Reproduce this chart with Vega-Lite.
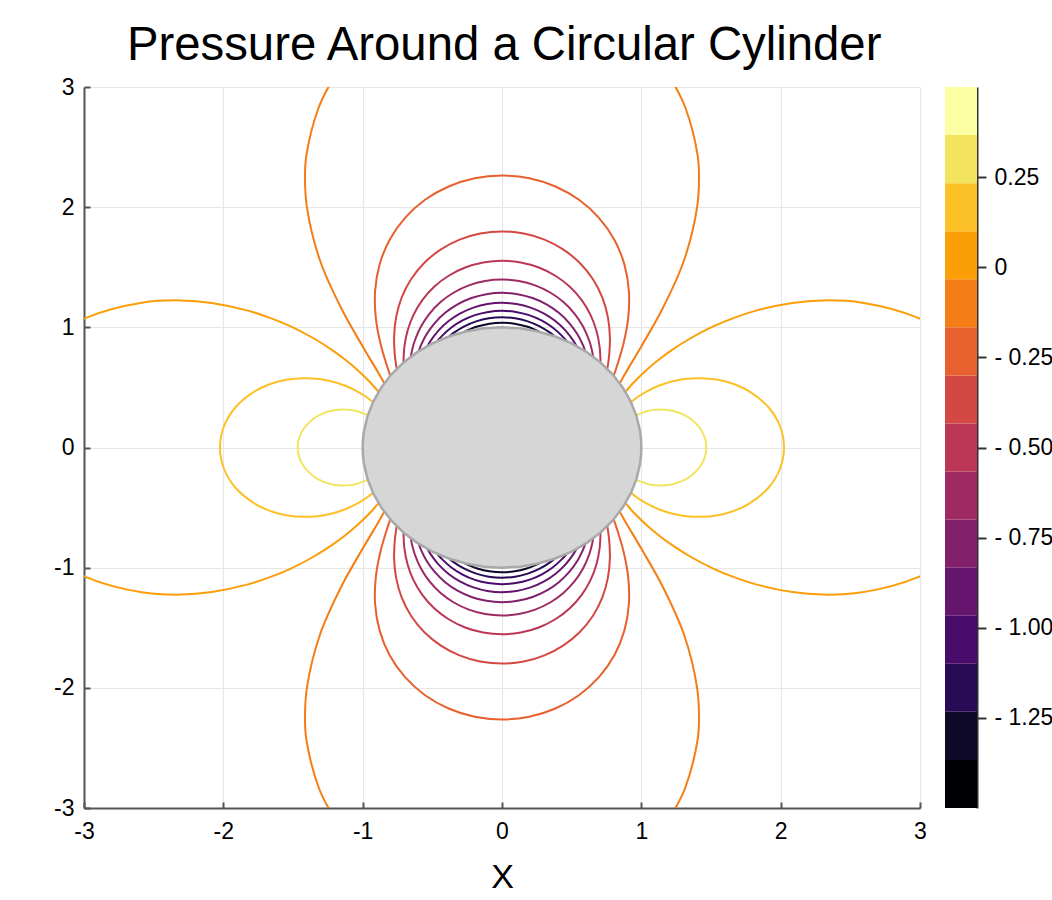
{
"$schema": "https://vega.github.io/schema/vega-lite/v6.json",
"padding": {"left": 53, "top": 21, "right": 0, "bottom": 5},
"background": "white",
"title": {"text": "Pressure Around a Circular Cylinder", "fontSize": 47.3, "font": "Liberation Sans", "fontWeight": "normal", "color": "#000000", "anchor": "middle", "offset": 6, "dx": -49},
"config": {"view": {"stroke": null}},
"resolve": {"scale": {"x": "independent", "y": "independent", "color": "shared"}},
"spacing": 18,
"datasets": {
"contours": [
{"c":"10t","v":-0.0714,"i":0,"x":0.8453,"y":0.5344},
{"c":"10t","v":-0.0714,"i":1,"x":0.8876,"y":0.6215},
{"c":"10t","v":-0.0714,"i":2,"x":0.9977,"y":0.8372},
{"c":"10t","v":-0.0714,"i":3,"x":1.1501,"y":1.1501},
{"c":"10t","v":-0.0714,"i":4,"x":1.306,"y":1.556},
{"c":"10t","v":-0.0714,"i":5,"x":1.4003,"y":2.0},
{"c":"10t","v":-0.0714,"i":6,"x":1.4138,"y":2.2625},
{"c":"10t","v":-0.0714,"i":7,"x":1.404,"y":2.432},
{"c":"10t","v":-0.0714,"i":8,"x":1.317,"y":2.825},
{"c":"10t","v":-0.0714,"i":9,"x":1.2438,"y":3.0027},
{"c":"10t","v":-0.0714,"i":10,"x":1.1515,"y":3.164},
{"c":"10t","v":-0.0714,"i":11,"x":-1.1515,"y":3.164},
{"c":"10t","v":-0.0714,"i":12,"x":-1.2438,"y":3.0027},
{"c":"10t","v":-0.0714,"i":13,"x":-1.317,"y":2.825},
{"c":"10t","v":-0.0714,"i":14,"x":-1.404,"y":2.432},
{"c":"10t","v":-0.0714,"i":15,"x":-1.4138,"y":2.2625},
{"c":"10t","v":-0.0714,"i":16,"x":-1.4003,"y":2.0},
{"c":"10t","v":-0.0714,"i":17,"x":-1.306,"y":1.556},
{"c":"10t","v":-0.0714,"i":18,"x":-1.1501,"y":1.1501},
{"c":"10t","v":-0.0714,"i":19,"x":-0.9977,"y":0.8372},
{"c":"10t","v":-0.0714,"i":20,"x":-0.8876,"y":0.6215},
{"c":"10t","v":-0.0714,"i":21,"x":-0.8453,"y":0.5344},
{"c":"10b","v":-0.0714,"i":0,"x":0.8453,"y":-0.5344},
{"c":"10b","v":-0.0714,"i":1,"x":0.8876,"y":-0.6215},
{"c":"10b","v":-0.0714,"i":2,"x":0.9977,"y":-0.8372},
{"c":"10b","v":-0.0714,"i":3,"x":1.1501,"y":-1.1501},
{"c":"10b","v":-0.0714,"i":4,"x":1.306,"y":-1.556},
{"c":"10b","v":-0.0714,"i":5,"x":1.4003,"y":-2.0},
{"c":"10b","v":-0.0714,"i":6,"x":1.4138,"y":-2.2625},
{"c":"10b","v":-0.0714,"i":7,"x":1.404,"y":-2.432},
{"c":"10b","v":-0.0714,"i":8,"x":1.317,"y":-2.825},
{"c":"10b","v":-0.0714,"i":9,"x":1.2438,"y":-3.0027},
{"c":"10b","v":-0.0714,"i":10,"x":1.1515,"y":-3.164},
{"c":"10b","v":-0.0714,"i":11,"x":-1.1515,"y":-3.164},
{"c":"10b","v":-0.0714,"i":12,"x":-1.2438,"y":-3.0027},
{"c":"10b","v":-0.0714,"i":13,"x":-1.317,"y":-2.825},
{"c":"10b","v":-0.0714,"i":14,"x":-1.404,"y":-2.432},
{"c":"10b","v":-0.0714,"i":15,"x":-1.4138,"y":-2.2625},
{"c":"10b","v":-0.0714,"i":16,"x":-1.4003,"y":-2.0},
{"c":"10b","v":-0.0714,"i":17,"x":-1.306,"y":-1.556},
{"c":"10b","v":-0.0714,"i":18,"x":-1.1501,"y":-1.1501},
{"c":"10b","v":-0.0714,"i":19,"x":-0.9977,"y":-0.8372},
{"c":"10b","v":-0.0714,"i":20,"x":-0.8876,"y":-0.6215},
{"c":"10b","v":-0.0714,"i":21,"x":-0.8453,"y":-0.5344},
{"c":"9t","v":-0.2143,"i":0,"x":0.8018,"y":0.5976},
{"c":"9t","v":-0.2143,"i":1,"x":0.8304,"y":0.6969},
{"c":"9t","v":-0.2143,"i":2,"x":0.8739,"y":0.8739},
{"c":"9t","v":-0.2143,"i":3,"x":0.9057,"y":1.0793},
{"c":"9t","v":-0.2143,"i":4,"x":0.9108,"y":1.3007},
{"c":"9t","v":-0.2143,"i":5,"x":0.8787,"y":1.522},
{"c":"9t","v":-0.2143,"i":6,"x":0.8063,"y":1.7292},
{"c":"9t","v":-0.2143,"i":7,"x":0.6957,"y":1.9114},
{"c":"9t","v":-0.2143,"i":8,"x":0.5523,"y":2.0613},
{"c":"9t","v":-0.2143,"i":9,"x":0.3829,"y":2.172},
{"c":"9t","v":-0.2143,"i":10,"x":0.1961,"y":2.2406},
{"c":"9t","v":-0.2143,"i":11,"x":0,"y":2.263},
{"c":"9t","v":-0.2143,"i":12,"x":-0.1961,"y":2.2406},
{"c":"9t","v":-0.2143,"i":13,"x":-0.3829,"y":2.172},
{"c":"9t","v":-0.2143,"i":14,"x":-0.5523,"y":2.0613},
{"c":"9t","v":-0.2143,"i":15,"x":-0.6957,"y":1.9114},
{"c":"9t","v":-0.2143,"i":16,"x":-0.8063,"y":1.7292},
{"c":"9t","v":-0.2143,"i":17,"x":-0.8787,"y":1.522},
{"c":"9t","v":-0.2143,"i":18,"x":-0.9108,"y":1.3007},
{"c":"9t","v":-0.2143,"i":19,"x":-0.9057,"y":1.0793},
{"c":"9t","v":-0.2143,"i":20,"x":-0.8739,"y":0.8739},
{"c":"9t","v":-0.2143,"i":21,"x":-0.8304,"y":0.6969},
{"c":"9t","v":-0.2143,"i":22,"x":-0.8018,"y":0.5976},
{"c":"9b","v":-0.2143,"i":0,"x":0.8018,"y":-0.5976},
{"c":"9b","v":-0.2143,"i":1,"x":0.8304,"y":-0.6969},
{"c":"9b","v":-0.2143,"i":2,"x":0.8739,"y":-0.8739},
{"c":"9b","v":-0.2143,"i":3,"x":0.9057,"y":-1.0793},
{"c":"9b","v":-0.2143,"i":4,"x":0.9108,"y":-1.3007},
{"c":"9b","v":-0.2143,"i":5,"x":0.8787,"y":-1.522},
{"c":"9b","v":-0.2143,"i":6,"x":0.8063,"y":-1.7292},
{"c":"9b","v":-0.2143,"i":7,"x":0.6957,"y":-1.9114},
{"c":"9b","v":-0.2143,"i":8,"x":0.5523,"y":-2.0613},
{"c":"9b","v":-0.2143,"i":9,"x":0.3829,"y":-2.172},
{"c":"9b","v":-0.2143,"i":10,"x":0.1961,"y":-2.2406},
{"c":"9b","v":-0.2143,"i":11,"x":0,"y":-2.263},
{"c":"9b","v":-0.2143,"i":12,"x":-0.1961,"y":-2.2406},
{"c":"9b","v":-0.2143,"i":13,"x":-0.3829,"y":-2.172},
{"c":"9b","v":-0.2143,"i":14,"x":-0.5523,"y":-2.0613},
{"c":"9b","v":-0.2143,"i":15,"x":-0.6957,"y":-1.9114},
{"c":"9b","v":-0.2143,"i":16,"x":-0.8063,"y":-1.7292},
{"c":"9b","v":-0.2143,"i":17,"x":-0.8787,"y":-1.522},
{"c":"9b","v":-0.2143,"i":18,"x":-0.9108,"y":-1.3007},
{"c":"9b","v":-0.2143,"i":19,"x":-0.9057,"y":-1.0793},
{"c":"9b","v":-0.2143,"i":20,"x":-0.8739,"y":-0.8739},
{"c":"9b","v":-0.2143,"i":21,"x":-0.8304,"y":-0.6969},
{"c":"9b","v":-0.2143,"i":22,"x":-0.8018,"y":-0.5976},
{"c":"8t","v":-0.3571,"i":0,"x":0.7558,"y":0.6547},
{"c":"8t","v":-0.3571,"i":1,"x":0.7691,"y":0.7691},
{"c":"8t","v":-0.3571,"i":2,"x":0.7743,"y":0.9227},
{"c":"8t","v":-0.3571,"i":3,"x":0.7598,"y":1.0852},
{"c":"8t","v":-0.3571,"i":4,"x":0.7202,"y":1.2473},
{"c":"8t","v":-0.3571,"i":5,"x":0.6529,"y":1.4002},
{"c":"8t","v":-0.3571,"i":6,"x":0.5587,"y":1.5352},
{"c":"8t","v":-0.3571,"i":7,"x":0.4412,"y":1.6466},
{"c":"8t","v":-0.3571,"i":8,"x":0.3049,"y":1.7298},
{"c":"8t","v":-0.3571,"i":9,"x":0.1559,"y":1.7808},
{"c":"8t","v":-0.3571,"i":10,"x":0,"y":1.798},
{"c":"8t","v":-0.3571,"i":11,"x":-0.1559,"y":1.7808},
{"c":"8t","v":-0.3571,"i":12,"x":-0.3049,"y":1.7298},
{"c":"8t","v":-0.3571,"i":13,"x":-0.4412,"y":1.6466},
{"c":"8t","v":-0.3571,"i":14,"x":-0.5587,"y":1.5352},
{"c":"8t","v":-0.3571,"i":15,"x":-0.6529,"y":1.4002},
{"c":"8t","v":-0.3571,"i":16,"x":-0.7202,"y":1.2473},
{"c":"8t","v":-0.3571,"i":17,"x":-0.7598,"y":1.0852},
{"c":"8t","v":-0.3571,"i":18,"x":-0.7743,"y":0.9227},
{"c":"8t","v":-0.3571,"i":19,"x":-0.7691,"y":0.7691},
{"c":"8t","v":-0.3571,"i":20,"x":-0.7558,"y":0.6547},
{"c":"8b","v":-0.3571,"i":0,"x":0.7558,"y":-0.6547},
{"c":"8b","v":-0.3571,"i":1,"x":0.7691,"y":-0.7691},
{"c":"8b","v":-0.3571,"i":2,"x":0.7743,"y":-0.9227},
{"c":"8b","v":-0.3571,"i":3,"x":0.7598,"y":-1.0852},
{"c":"8b","v":-0.3571,"i":4,"x":0.7202,"y":-1.2473},
{"c":"8b","v":-0.3571,"i":5,"x":0.6529,"y":-1.4002},
{"c":"8b","v":-0.3571,"i":6,"x":0.5587,"y":-1.5352},
{"c":"8b","v":-0.3571,"i":7,"x":0.4412,"y":-1.6466},
{"c":"8b","v":-0.3571,"i":8,"x":0.3049,"y":-1.7298},
{"c":"8b","v":-0.3571,"i":9,"x":0.1559,"y":-1.7808},
{"c":"8b","v":-0.3571,"i":10,"x":0,"y":-1.798},
{"c":"8b","v":-0.3571,"i":11,"x":-0.1559,"y":-1.7808},
{"c":"8b","v":-0.3571,"i":12,"x":-0.3049,"y":-1.7298},
{"c":"8b","v":-0.3571,"i":13,"x":-0.4412,"y":-1.6466},
{"c":"8b","v":-0.3571,"i":14,"x":-0.5587,"y":-1.5352},
{"c":"8b","v":-0.3571,"i":15,"x":-0.6529,"y":-1.4002},
{"c":"8b","v":-0.3571,"i":16,"x":-0.7202,"y":-1.2473},
{"c":"8b","v":-0.3571,"i":17,"x":-0.7598,"y":-1.0852},
{"c":"8b","v":-0.3571,"i":18,"x":-0.7743,"y":-0.9227},
{"c":"8b","v":-0.3571,"i":19,"x":-0.7691,"y":-0.7691},
{"c":"8b","v":-0.3571,"i":20,"x":-0.7558,"y":-0.6547},
{"c":"7t","v":-0.5,"i":0,"x":0.7071,"y":0.7071},
{"c":"7t","v":-0.5,"i":1,"x":0.7008,"y":0.8352},
{"c":"7t","v":-0.5,"i":2,"x":0.6784,"y":0.9689},
{"c":"7t","v":-0.5,"i":3,"x":0.636,"y":1.1017},
{"c":"7t","v":-0.5,"i":4,"x":0.5719,"y":1.2265},
{"c":"7t","v":-0.5,"i":5,"x":0.4868,"y":1.3375},
{"c":"7t","v":-0.5,"i":6,"x":0.3829,"y":1.4291},
{"c":"7t","v":-0.5,"i":7,"x":0.264,"y":1.4976},
{"c":"7t","v":-0.5,"i":8,"x":0.1347,"y":1.5395},
{"c":"7t","v":-0.5,"i":9,"x":0,"y":1.5538},
{"c":"7t","v":-0.5,"i":10,"x":-0.1347,"y":1.5395},
{"c":"7t","v":-0.5,"i":11,"x":-0.264,"y":1.4976},
{"c":"7t","v":-0.5,"i":12,"x":-0.3829,"y":1.4291},
{"c":"7t","v":-0.5,"i":13,"x":-0.4868,"y":1.3375},
{"c":"7t","v":-0.5,"i":14,"x":-0.5719,"y":1.2265},
{"c":"7t","v":-0.5,"i":15,"x":-0.636,"y":1.1017},
{"c":"7t","v":-0.5,"i":16,"x":-0.6784,"y":0.9689},
{"c":"7t","v":-0.5,"i":17,"x":-0.7008,"y":0.8352},
{"c":"7t","v":-0.5,"i":18,"x":-0.7071,"y":0.7071},
{"c":"7b","v":-0.5,"i":0,"x":0.7071,"y":-0.7071},
{"c":"7b","v":-0.5,"i":1,"x":0.7008,"y":-0.8352},
{"c":"7b","v":-0.5,"i":2,"x":0.6784,"y":-0.9689},
{"c":"7b","v":-0.5,"i":3,"x":0.636,"y":-1.1017},
{"c":"7b","v":-0.5,"i":4,"x":0.5719,"y":-1.2265},
{"c":"7b","v":-0.5,"i":5,"x":0.4868,"y":-1.3375},
{"c":"7b","v":-0.5,"i":6,"x":0.3829,"y":-1.4291},
{"c":"7b","v":-0.5,"i":7,"x":0.264,"y":-1.4976},
{"c":"7b","v":-0.5,"i":8,"x":0.1347,"y":-1.5395},
{"c":"7b","v":-0.5,"i":9,"x":0,"y":-1.5538},
{"c":"7b","v":-0.5,"i":10,"x":-0.1347,"y":-1.5395},
{"c":"7b","v":-0.5,"i":11,"x":-0.264,"y":-1.4976},
{"c":"7b","v":-0.5,"i":12,"x":-0.3829,"y":-1.4291},
{"c":"7b","v":-0.5,"i":13,"x":-0.4868,"y":-1.3375},
{"c":"7b","v":-0.5,"i":14,"x":-0.5719,"y":-1.2265},
{"c":"7b","v":-0.5,"i":15,"x":-0.636,"y":-1.1017},
{"c":"7b","v":-0.5,"i":16,"x":-0.6784,"y":-0.9689},
{"c":"7b","v":-0.5,"i":17,"x":-0.7008,"y":-0.8352},
{"c":"7b","v":-0.5,"i":18,"x":-0.7071,"y":-0.7071},
{"c":"6t","v":-0.6429,"i":0,"x":0.6547,"y":0.7559},
{"c":"6t","v":-0.6429,"i":1,"x":0.6428,"y":0.8227},
{"c":"6t","v":-0.6429,"i":2,"x":0.625,"y":0.8926},
{"c":"6t","v":-0.6429,"i":3,"x":0.5816,"y":1.0073},
{"c":"6t","v":-0.6429,"i":4,"x":0.5199,"y":1.115},
{"c":"6t","v":-0.6429,"i":5,"x":0.4407,"y":1.2108},
{"c":"6t","v":-0.6429,"i":6,"x":0.3456,"y":1.2898},
{"c":"6t","v":-0.6429,"i":7,"x":0.2378,"y":1.3489},
{"c":"6t","v":-0.6429,"i":8,"x":0.1213,"y":1.3855},
{"c":"6t","v":-0.6429,"i":9,"x":0,"y":1.3977},
{"c":"6t","v":-0.6429,"i":10,"x":-0.1213,"y":1.3855},
{"c":"6t","v":-0.6429,"i":11,"x":-0.2378,"y":1.3489},
{"c":"6t","v":-0.6429,"i":12,"x":-0.3456,"y":1.2898},
{"c":"6t","v":-0.6429,"i":13,"x":-0.4407,"y":1.2108},
{"c":"6t","v":-0.6429,"i":14,"x":-0.5199,"y":1.115},
{"c":"6t","v":-0.6429,"i":15,"x":-0.5816,"y":1.0073},
{"c":"6t","v":-0.6429,"i":16,"x":-0.625,"y":0.8926},
{"c":"6t","v":-0.6429,"i":17,"x":-0.6428,"y":0.8227},
{"c":"6t","v":-0.6429,"i":18,"x":-0.6547,"y":0.7559},
{"c":"6b","v":-0.6429,"i":0,"x":0.6547,"y":-0.7559},
{"c":"6b","v":-0.6429,"i":1,"x":0.6428,"y":-0.8227},
{"c":"6b","v":-0.6429,"i":2,"x":0.625,"y":-0.8926},
{"c":"6b","v":-0.6429,"i":3,"x":0.5816,"y":-1.0073},
{"c":"6b","v":-0.6429,"i":4,"x":0.5199,"y":-1.115},
{"c":"6b","v":-0.6429,"i":5,"x":0.4407,"y":-1.2108},
{"c":"6b","v":-0.6429,"i":6,"x":0.3456,"y":-1.2898},
{"c":"6b","v":-0.6429,"i":7,"x":0.2378,"y":-1.3489},
{"c":"6b","v":-0.6429,"i":8,"x":0.1213,"y":-1.3855},
{"c":"6b","v":-0.6429,"i":9,"x":0,"y":-1.3977},
{"c":"6b","v":-0.6429,"i":10,"x":-0.1213,"y":-1.3855},
{"c":"6b","v":-0.6429,"i":11,"x":-0.2378,"y":-1.3489},
{"c":"6b","v":-0.6429,"i":12,"x":-0.3456,"y":-1.2898},
{"c":"6b","v":-0.6429,"i":13,"x":-0.4407,"y":-1.2108},
{"c":"6b","v":-0.6429,"i":14,"x":-0.5199,"y":-1.115},
{"c":"6b","v":-0.6429,"i":15,"x":-0.5816,"y":-1.0073},
{"c":"6b","v":-0.6429,"i":16,"x":-0.625,"y":-0.8926},
{"c":"6b","v":-0.6429,"i":17,"x":-0.6428,"y":-0.8227},
{"c":"6b","v":-0.6429,"i":18,"x":-0.6547,"y":-0.7559},
{"c":"5t","v":-0.7857,"i":0,"x":0.5976,"y":0.8018},
{"c":"5t","v":-0.7857,"i":1,"x":0.5787,"y":0.858},
{"c":"5t","v":-0.7857,"i":2,"x":0.5425,"y":0.9396},
{"c":"5t","v":-0.7857,"i":3,"x":0.4829,"y":1.0355},
{"c":"5t","v":-0.7857,"i":4,"x":0.4079,"y":1.1207},
{"c":"5t","v":-0.7857,"i":5,"x":0.3192,"y":1.1912},
{"c":"5t","v":-0.7857,"i":6,"x":0.2192,"y":1.2437},
{"c":"5t","v":-0.7857,"i":7,"x":0.1117,"y":1.2762},
{"c":"5t","v":-0.7857,"i":8,"x":0,"y":1.2872},
{"c":"5t","v":-0.7857,"i":9,"x":-0.1117,"y":1.2762},
{"c":"5t","v":-0.7857,"i":10,"x":-0.2192,"y":1.2437},
{"c":"5t","v":-0.7857,"i":11,"x":-0.3192,"y":1.1912},
{"c":"5t","v":-0.7857,"i":12,"x":-0.4079,"y":1.1207},
{"c":"5t","v":-0.7857,"i":13,"x":-0.4829,"y":1.0355},
{"c":"5t","v":-0.7857,"i":14,"x":-0.5425,"y":0.9396},
{"c":"5t","v":-0.7857,"i":15,"x":-0.5787,"y":0.858},
{"c":"5t","v":-0.7857,"i":16,"x":-0.5976,"y":0.8018},
{"c":"5b","v":-0.7857,"i":0,"x":0.5976,"y":-0.8018},
{"c":"5b","v":-0.7857,"i":1,"x":0.5787,"y":-0.858},
{"c":"5b","v":-0.7857,"i":2,"x":0.5425,"y":-0.9396},
{"c":"5b","v":-0.7857,"i":3,"x":0.4829,"y":-1.0355},
{"c":"5b","v":-0.7857,"i":4,"x":0.4079,"y":-1.1207},
{"c":"5b","v":-0.7857,"i":5,"x":0.3192,"y":-1.1912},
{"c":"5b","v":-0.7857,"i":6,"x":0.2192,"y":-1.2437},
{"c":"5b","v":-0.7857,"i":7,"x":0.1117,"y":-1.2762},
{"c":"5b","v":-0.7857,"i":8,"x":0,"y":-1.2872},
{"c":"5b","v":-0.7857,"i":9,"x":-0.1117,"y":-1.2762},
{"c":"5b","v":-0.7857,"i":10,"x":-0.2192,"y":-1.2437},
{"c":"5b","v":-0.7857,"i":11,"x":-0.3192,"y":-1.1912},
{"c":"5b","v":-0.7857,"i":12,"x":-0.4079,"y":-1.1207},
{"c":"5b","v":-0.7857,"i":13,"x":-0.4829,"y":-1.0355},
{"c":"5b","v":-0.7857,"i":14,"x":-0.5425,"y":-0.9396},
{"c":"5b","v":-0.7857,"i":15,"x":-0.5787,"y":-0.858},
{"c":"5b","v":-0.7857,"i":16,"x":-0.5976,"y":-0.8018},
{"c":"4t","v":-0.9286,"i":0,"x":0.5344,"y":0.8453},
{"c":"4t","v":-0.9286,"i":1,"x":0.5126,"y":0.8878},
{"c":"4t","v":-0.9286,"i":2,"x":0.4546,"y":0.975},
{"c":"4t","v":-0.9286,"i":3,"x":0.383,"y":1.0524},
{"c":"4t","v":-0.9286,"i":4,"x":0.2991,"y":1.1163},
{"c":"4t","v":-0.9286,"i":5,"x":0.2052,"y":1.1642},
{"c":"4t","v":-0.9286,"i":6,"x":0.1045,"y":1.1936},
{"c":"4t","v":-0.9286,"i":7,"x":0,"y":1.2036},
{"c":"4t","v":-0.9286,"i":8,"x":-0.1045,"y":1.1936},
{"c":"4t","v":-0.9286,"i":9,"x":-0.2052,"y":1.1642},
{"c":"4t","v":-0.9286,"i":10,"x":-0.2991,"y":1.1163},
{"c":"4t","v":-0.9286,"i":11,"x":-0.383,"y":1.0524},
{"c":"4t","v":-0.9286,"i":12,"x":-0.4546,"y":0.975},
{"c":"4t","v":-0.9286,"i":13,"x":-0.5126,"y":0.8878},
{"c":"4t","v":-0.9286,"i":14,"x":-0.5344,"y":0.8453},
{"c":"4b","v":-0.9286,"i":0,"x":0.5344,"y":-0.8453},
{"c":"4b","v":-0.9286,"i":1,"x":0.5126,"y":-0.8878},
{"c":"4b","v":-0.9286,"i":2,"x":0.4546,"y":-0.975},
{"c":"4b","v":-0.9286,"i":3,"x":0.383,"y":-1.0524},
{"c":"4b","v":-0.9286,"i":4,"x":0.2991,"y":-1.1163},
{"c":"4b","v":-0.9286,"i":5,"x":0.2052,"y":-1.1642},
{"c":"4b","v":-0.9286,"i":6,"x":0.1045,"y":-1.1936},
{"c":"4b","v":-0.9286,"i":7,"x":0,"y":-1.2036},
{"c":"4b","v":-0.9286,"i":8,"x":-0.1045,"y":-1.1936},
{"c":"4b","v":-0.9286,"i":9,"x":-0.2052,"y":-1.1642},
{"c":"4b","v":-0.9286,"i":10,"x":-0.2991,"y":-1.1163},
{"c":"4b","v":-0.9286,"i":11,"x":-0.383,"y":-1.0524},
{"c":"4b","v":-0.9286,"i":12,"x":-0.4546,"y":-0.975},
{"c":"4b","v":-0.9286,"i":13,"x":-0.5126,"y":-0.8878},
{"c":"4b","v":-0.9286,"i":14,"x":-0.5344,"y":-0.8453},
{"c":"3t","v":-1.0714,"i":0,"x":0.4633,"y":0.8862},
{"c":"3t","v":-1.0714,"i":1,"x":0.4322,"y":0.9269},
{"c":"3t","v":-1.0714,"i":2,"x":0.3633,"y":0.9982},
{"c":"3t","v":-1.0714,"i":3,"x":0.2832,"y":1.0571},
{"c":"3t","v":-1.0714,"i":4,"x":0.1941,"y":1.1012},
{"c":"3t","v":-1.0714,"i":5,"x":0.0988,"y":1.1283},
{"c":"3t","v":-1.0714,"i":6,"x":0,"y":1.1375},
{"c":"3t","v":-1.0714,"i":7,"x":-0.0988,"y":1.1283},
{"c":"3t","v":-1.0714,"i":8,"x":-0.1941,"y":1.1012},
{"c":"3t","v":-1.0714,"i":9,"x":-0.2832,"y":1.0571},
{"c":"3t","v":-1.0714,"i":10,"x":-0.3633,"y":0.9982},
{"c":"3t","v":-1.0714,"i":11,"x":-0.4322,"y":0.9269},
{"c":"3t","v":-1.0714,"i":12,"x":-0.4633,"y":0.8862},
{"c":"3b","v":-1.0714,"i":0,"x":0.4633,"y":-0.8862},
{"c":"3b","v":-1.0714,"i":1,"x":0.4322,"y":-0.9269},
{"c":"3b","v":-1.0714,"i":2,"x":0.3633,"y":-0.9982},
{"c":"3b","v":-1.0714,"i":3,"x":0.2832,"y":-1.0571},
{"c":"3b","v":-1.0714,"i":4,"x":0.1941,"y":-1.1012},
{"c":"3b","v":-1.0714,"i":5,"x":0.0988,"y":-1.1283},
{"c":"3b","v":-1.0714,"i":6,"x":0,"y":-1.1375},
{"c":"3b","v":-1.0714,"i":7,"x":-0.0988,"y":-1.1283},
{"c":"3b","v":-1.0714,"i":8,"x":-0.1941,"y":-1.1012},
{"c":"3b","v":-1.0714,"i":9,"x":-0.2832,"y":-1.0571},
{"c":"3b","v":-1.0714,"i":10,"x":-0.3633,"y":-0.9982},
{"c":"3b","v":-1.0714,"i":11,"x":-0.4322,"y":-0.9269},
{"c":"3b","v":-1.0714,"i":12,"x":-0.4633,"y":-0.8862},
{"c":"2t","v":-1.2143,"i":0,"x":0.3778,"y":0.9259},
{"c":"2t","v":-1.2143,"i":1,"x":0.3472,"y":0.9539},
{"c":"2t","v":-1.2143,"i":2,"x":0.2703,"y":1.0087},
{"c":"2t","v":-1.2143,"i":3,"x":0.1851,"y":1.0498},
{"c":"2t","v":-1.2143,"i":4,"x":0.0941,"y":1.075},
{"c":"2t","v":-1.2143,"i":5,"x":0,"y":1.0836},
{"c":"2t","v":-1.2143,"i":6,"x":-0.0941,"y":1.075},
{"c":"2t","v":-1.2143,"i":7,"x":-0.1851,"y":1.0498},
{"c":"2t","v":-1.2143,"i":8,"x":-0.2703,"y":1.0087},
{"c":"2t","v":-1.2143,"i":9,"x":-0.3472,"y":0.9539},
{"c":"2t","v":-1.2143,"i":10,"x":-0.3778,"y":0.9259},
{"c":"2b","v":-1.2143,"i":0,"x":0.3778,"y":-0.9259},
{"c":"2b","v":-1.2143,"i":1,"x":0.3472,"y":-0.9539},
{"c":"2b","v":-1.2143,"i":2,"x":0.2703,"y":-1.0087},
{"c":"2b","v":-1.2143,"i":3,"x":0.1851,"y":-1.0498},
{"c":"2b","v":-1.2143,"i":4,"x":0.0941,"y":-1.075},
{"c":"2b","v":-1.2143,"i":5,"x":0,"y":-1.0836},
{"c":"2b","v":-1.2143,"i":6,"x":-0.0941,"y":-1.075},
{"c":"2b","v":-1.2143,"i":7,"x":-0.1851,"y":-1.0498},
{"c":"2b","v":-1.2143,"i":8,"x":-0.2703,"y":-1.0087},
{"c":"2b","v":-1.2143,"i":9,"x":-0.3472,"y":-0.9539},
{"c":"2b","v":-1.2143,"i":10,"x":-0.3778,"y":-0.9259},
{"c":"1t","v":-1.3571,"i":0,"x":0.2672,"y":0.9636},
{"c":"1t","v":-1.3571,"i":1,"x":0.2275,"y":0.9853},
{"c":"1t","v":-1.3571,"i":2,"x":0.1775,"y":1.0067},
{"c":"1t","v":-1.3571,"i":3,"x":0.0902,"y":1.0305},
{"c":"1t","v":-1.3571,"i":4,"x":0,"y":1.0385},
{"c":"1t","v":-1.3571,"i":5,"x":-0.0902,"y":1.0305},
{"c":"1t","v":-1.3571,"i":6,"x":-0.1775,"y":1.0067},
{"c":"1t","v":-1.3571,"i":7,"x":-0.2275,"y":0.9853},
{"c":"1t","v":-1.3571,"i":8,"x":-0.2672,"y":0.9636},
{"c":"1b","v":-1.3571,"i":0,"x":0.2672,"y":-0.9636},
{"c":"1b","v":-1.3571,"i":1,"x":0.2275,"y":-0.9853},
{"c":"1b","v":-1.3571,"i":2,"x":0.1775,"y":-1.0067},
{"c":"1b","v":-1.3571,"i":3,"x":0.0902,"y":-1.0305},
{"c":"1b","v":-1.3571,"i":4,"x":0,"y":-1.0385},
{"c":"1b","v":-1.3571,"i":5,"x":-0.0902,"y":-1.0305},
{"c":"1b","v":-1.3571,"i":6,"x":-0.1775,"y":-1.0067},
{"c":"1b","v":-1.3571,"i":7,"x":-0.2275,"y":-0.9853},
{"c":"1b","v":-1.3571,"i":8,"x":-0.2672,"y":-0.9636},
{"c":"13r","v":0.3571,"i":0,"x":0.9636,"y":-0.2672},
{"c":"13r","v":0.3571,"i":1,"x":0.9835,"y":-0.2783},
{"c":"13r","v":0.3571,"i":2,"x":1.0446,"y":-0.3031},
{"c":"13r","v":0.3571,"i":3,"x":1.114,"y":-0.3152},
{"c":"13r","v":0.3571,"i":4,"x":1.174,"y":-0.3145},
{"c":"13r","v":0.3571,"i":5,"x":1.225,"y":-0.3054},
{"c":"13r","v":0.3571,"i":6,"x":1.283,"y":-0.2844},
{"c":"13r","v":0.3571,"i":7,"x":1.354,"y":-0.2387},
{"c":"13r","v":0.3571,"i":8,"x":1.439,"y":-0.126},
{"c":"13r","v":0.3571,"i":9,"x":1.466,"y":0},
{"c":"13r","v":0.3571,"i":10,"x":1.439,"y":0.126},
{"c":"13r","v":0.3571,"i":11,"x":1.354,"y":0.2387},
{"c":"13r","v":0.3571,"i":12,"x":1.283,"y":0.2844},
{"c":"13r","v":0.3571,"i":13,"x":1.225,"y":0.3054},
{"c":"13r","v":0.3571,"i":14,"x":1.174,"y":0.3145},
{"c":"13r","v":0.3571,"i":15,"x":1.114,"y":0.3152},
{"c":"13r","v":0.3571,"i":16,"x":1.0446,"y":0.3031},
{"c":"13r","v":0.3571,"i":17,"x":0.9835,"y":0.2783},
{"c":"13r","v":0.3571,"i":18,"x":0.9636,"y":0.2672},
{"c":"13l","v":0.3571,"i":0,"x":-0.9636,"y":-0.2672},
{"c":"13l","v":0.3571,"i":1,"x":-0.9835,"y":-0.2783},
{"c":"13l","v":0.3571,"i":2,"x":-1.0446,"y":-0.3031},
{"c":"13l","v":0.3571,"i":3,"x":-1.114,"y":-0.3152},
{"c":"13l","v":0.3571,"i":4,"x":-1.174,"y":-0.3145},
{"c":"13l","v":0.3571,"i":5,"x":-1.225,"y":-0.3054},
{"c":"13l","v":0.3571,"i":6,"x":-1.283,"y":-0.2844},
{"c":"13l","v":0.3571,"i":7,"x":-1.354,"y":-0.2387},
{"c":"13l","v":0.3571,"i":8,"x":-1.439,"y":-0.126},
{"c":"13l","v":0.3571,"i":9,"x":-1.466,"y":0},
{"c":"13l","v":0.3571,"i":10,"x":-1.439,"y":0.126},
{"c":"13l","v":0.3571,"i":11,"x":-1.354,"y":0.2387},
{"c":"13l","v":0.3571,"i":12,"x":-1.283,"y":0.2844},
{"c":"13l","v":0.3571,"i":13,"x":-1.225,"y":0.3054},
{"c":"13l","v":0.3571,"i":14,"x":-1.174,"y":0.3145},
{"c":"13l","v":0.3571,"i":15,"x":-1.114,"y":0.3152},
{"c":"13l","v":0.3571,"i":16,"x":-1.0446,"y":0.3031},
{"c":"13l","v":0.3571,"i":17,"x":-0.9835,"y":0.2783},
{"c":"13l","v":0.3571,"i":18,"x":-0.9636,"y":0.2672},
{"c":"12r","v":0.2143,"i":0,"x":0.9259,"y":-0.3778},
{"c":"12r","v":0.2143,"i":1,"x":0.9815,"y":-0.4267},
{"c":"12r","v":0.2143,"i":2,"x":1.0365,"y":-0.4658},
{"c":"12r","v":0.2143,"i":3,"x":1.1242,"y":-0.5135},
{"c":"12r","v":0.2143,"i":4,"x":1.2262,"y":-0.551},
{"c":"12r","v":0.2143,"i":5,"x":1.309,"y":-0.5691},
{"c":"12r","v":0.2143,"i":6,"x":1.4284,"y":-0.5771},
{"c":"12r","v":0.2143,"i":7,"x":1.5484,"y":-0.5636},
{"c":"12r","v":0.2143,"i":8,"x":1.6464,"y":-0.5349},
{"c":"12r","v":0.2143,"i":9,"x":1.766,"y":-0.4732},
{"c":"12r","v":0.2143,"i":10,"x":1.911,"y":-0.3368},
{"c":"12r","v":0.2143,"i":11,"x":1.996,"y":-0.1747},
{"c":"12r","v":0.2143,"i":12,"x":2.024,"y":0},
{"c":"12r","v":0.2143,"i":13,"x":1.996,"y":0.1747},
{"c":"12r","v":0.2143,"i":14,"x":1.911,"y":0.3368},
{"c":"12r","v":0.2143,"i":15,"x":1.766,"y":0.4732},
{"c":"12r","v":0.2143,"i":16,"x":1.6464,"y":0.5349},
{"c":"12r","v":0.2143,"i":17,"x":1.5484,"y":0.5636},
{"c":"12r","v":0.2143,"i":18,"x":1.4284,"y":0.5771},
{"c":"12r","v":0.2143,"i":19,"x":1.309,"y":0.5691},
{"c":"12r","v":0.2143,"i":20,"x":1.2262,"y":0.551},
{"c":"12r","v":0.2143,"i":21,"x":1.1242,"y":0.5135},
{"c":"12r","v":0.2143,"i":22,"x":1.0365,"y":0.4658},
{"c":"12r","v":0.2143,"i":23,"x":0.9815,"y":0.4267},
{"c":"12r","v":0.2143,"i":24,"x":0.9259,"y":0.3778},
{"c":"12l","v":0.2143,"i":0,"x":-0.9259,"y":-0.3778},
{"c":"12l","v":0.2143,"i":1,"x":-0.9815,"y":-0.4267},
{"c":"12l","v":0.2143,"i":2,"x":-1.0365,"y":-0.4658},
{"c":"12l","v":0.2143,"i":3,"x":-1.1242,"y":-0.5135},
{"c":"12l","v":0.2143,"i":4,"x":-1.2262,"y":-0.551},
{"c":"12l","v":0.2143,"i":5,"x":-1.309,"y":-0.5691},
{"c":"12l","v":0.2143,"i":6,"x":-1.4284,"y":-0.5771},
{"c":"12l","v":0.2143,"i":7,"x":-1.5484,"y":-0.5636},
{"c":"12l","v":0.2143,"i":8,"x":-1.6464,"y":-0.5349},
{"c":"12l","v":0.2143,"i":9,"x":-1.766,"y":-0.4732},
{"c":"12l","v":0.2143,"i":10,"x":-1.911,"y":-0.3368},
{"c":"12l","v":0.2143,"i":11,"x":-1.996,"y":-0.1747},
{"c":"12l","v":0.2143,"i":12,"x":-2.024,"y":0},
{"c":"12l","v":0.2143,"i":13,"x":-1.996,"y":0.1747},
{"c":"12l","v":0.2143,"i":14,"x":-1.911,"y":0.3368},
{"c":"12l","v":0.2143,"i":15,"x":-1.766,"y":0.4732},
{"c":"12l","v":0.2143,"i":16,"x":-1.6464,"y":0.5349},
{"c":"12l","v":0.2143,"i":17,"x":-1.5484,"y":0.5636},
{"c":"12l","v":0.2143,"i":18,"x":-1.4284,"y":0.5771},
{"c":"12l","v":0.2143,"i":19,"x":-1.309,"y":0.5691},
{"c":"12l","v":0.2143,"i":20,"x":-1.2262,"y":0.551},
{"c":"12l","v":0.2143,"i":21,"x":-1.1242,"y":0.5135},
{"c":"12l","v":0.2143,"i":22,"x":-1.0365,"y":0.4658},
{"c":"12l","v":0.2143,"i":23,"x":-0.9815,"y":0.4267},
{"c":"12l","v":0.2143,"i":24,"x":-0.9259,"y":0.3778},
{"c":"11r","v":0.0714,"i":0,"x":0.8862,"y":-0.4633},
{"c":"11r","v":0.0714,"i":1,"x":0.9081,"y":-0.4931},
{"c":"11r","v":0.0714,"i":2,"x":0.9521,"y":-0.5497},
{"c":"11r","v":0.0714,"i":3,"x":1.0435,"y":-0.652},
{"c":"11r","v":0.0714,"i":4,"x":1.124,"y":-0.7298},
{"c":"11r","v":0.0714,"i":5,"x":1.211,"y":-0.8046},
{"c":"11r","v":0.0714,"i":6,"x":1.35,"y":-0.9071},
{"c":"11r","v":0.0714,"i":7,"x":1.5159,"y":-1.0072},
{"c":"11r","v":0.0714,"i":8,"x":1.6556,"y":-1.075},
{"c":"11r","v":0.0714,"i":9,"x":1.8233,"y":-1.1393},
{"c":"11r","v":0.0714,"i":10,"x":2.0837,"y":-1.203},
{"c":"11r","v":0.0714,"i":11,"x":2.302,"y":-1.2242},
{"c":"11r","v":0.0714,"i":12,"x":2.585,"y":-1.205},
{"c":"11r","v":0.0714,"i":13,"x":2.976,"y":-1.083},
{"c":"11r","v":0.0714,"i":14,"x":3.278,"y":-0.8784},
{"c":"11r","v":0.0714,"i":15,"x":3.278,"y":0.8784},
{"c":"11r","v":0.0714,"i":16,"x":2.976,"y":1.083},
{"c":"11r","v":0.0714,"i":17,"x":2.585,"y":1.205},
{"c":"11r","v":0.0714,"i":18,"x":2.302,"y":1.2242},
{"c":"11r","v":0.0714,"i":19,"x":2.0837,"y":1.203},
{"c":"11r","v":0.0714,"i":20,"x":1.8233,"y":1.1393},
{"c":"11r","v":0.0714,"i":21,"x":1.6556,"y":1.075},
{"c":"11r","v":0.0714,"i":22,"x":1.5159,"y":1.0072},
{"c":"11r","v":0.0714,"i":23,"x":1.35,"y":0.9071},
{"c":"11r","v":0.0714,"i":24,"x":1.211,"y":0.8046},
{"c":"11r","v":0.0714,"i":25,"x":1.124,"y":0.7298},
{"c":"11r","v":0.0714,"i":26,"x":1.0435,"y":0.652},
{"c":"11r","v":0.0714,"i":27,"x":0.9521,"y":0.5497},
{"c":"11r","v":0.0714,"i":28,"x":0.9081,"y":0.4931},
{"c":"11r","v":0.0714,"i":29,"x":0.8862,"y":0.4633},
{"c":"11l","v":0.0714,"i":0,"x":-0.8862,"y":-0.4633},
{"c":"11l","v":0.0714,"i":1,"x":-0.9081,"y":-0.4931},
{"c":"11l","v":0.0714,"i":2,"x":-0.9521,"y":-0.5497},
{"c":"11l","v":0.0714,"i":3,"x":-1.0435,"y":-0.652},
{"c":"11l","v":0.0714,"i":4,"x":-1.124,"y":-0.7298},
{"c":"11l","v":0.0714,"i":5,"x":-1.211,"y":-0.8046},
{"c":"11l","v":0.0714,"i":6,"x":-1.35,"y":-0.9071},
{"c":"11l","v":0.0714,"i":7,"x":-1.5159,"y":-1.0072},
{"c":"11l","v":0.0714,"i":8,"x":-1.6556,"y":-1.075},
{"c":"11l","v":0.0714,"i":9,"x":-1.8233,"y":-1.1393},
{"c":"11l","v":0.0714,"i":10,"x":-2.0837,"y":-1.203},
{"c":"11l","v":0.0714,"i":11,"x":-2.302,"y":-1.2242},
{"c":"11l","v":0.0714,"i":12,"x":-2.585,"y":-1.205},
{"c":"11l","v":0.0714,"i":13,"x":-2.976,"y":-1.083},
{"c":"11l","v":0.0714,"i":14,"x":-3.278,"y":-0.8784},
{"c":"11l","v":0.0714,"i":15,"x":-3.278,"y":0.8784},
{"c":"11l","v":0.0714,"i":16,"x":-2.976,"y":1.083},
{"c":"11l","v":0.0714,"i":17,"x":-2.585,"y":1.205},
{"c":"11l","v":0.0714,"i":18,"x":-2.302,"y":1.2242},
{"c":"11l","v":0.0714,"i":19,"x":-2.0837,"y":1.203},
{"c":"11l","v":0.0714,"i":20,"x":-1.8233,"y":1.1393},
{"c":"11l","v":0.0714,"i":21,"x":-1.6556,"y":1.075},
{"c":"11l","v":0.0714,"i":22,"x":-1.5159,"y":1.0072},
{"c":"11l","v":0.0714,"i":23,"x":-1.35,"y":0.9071},
{"c":"11l","v":0.0714,"i":24,"x":-1.211,"y":0.8046},
{"c":"11l","v":0.0714,"i":25,"x":-1.124,"y":0.7298},
{"c":"11l","v":0.0714,"i":26,"x":-1.0435,"y":0.652},
{"c":"11l","v":0.0714,"i":27,"x":-0.9521,"y":0.5497},
{"c":"11l","v":0.0714,"i":28,"x":-0.9081,"y":0.4931},
{"c":"11l","v":0.0714,"i":29,"x":-0.8862,"y":0.4633}
],
"circle": [
{"x":-1,"y":0,"y2":0},
{"x":-0.9979,"y":0.0654,"y2":-0.0654},
{"x":-0.9914,"y":0.1305,"y2":-0.1305},
{"x":-0.9659,"y":0.2588,"y2":-0.2588},
{"x":-0.9239,"y":0.3827,"y2":-0.3827},
{"x":-0.866,"y":0.5,"y2":-0.5},
{"x":-0.7934,"y":0.6088,"y2":-0.6088},
{"x":-0.7071,"y":0.7071,"y2":-0.7071},
{"x":-0.6088,"y":0.7934,"y2":-0.7934},
{"x":-0.5,"y":0.866,"y2":-0.866},
{"x":-0.3827,"y":0.9239,"y2":-0.9239},
{"x":-0.2588,"y":0.9659,"y2":-0.9659},
{"x":-0.1305,"y":0.9914,"y2":-0.9914},
{"x":0,"y":1,"y2":-1},
{"x":0.1305,"y":0.9914,"y2":-0.9914},
{"x":0.2588,"y":0.9659,"y2":-0.9659},
{"x":0.3827,"y":0.9239,"y2":-0.9239},
{"x":0.5,"y":0.866,"y2":-0.866},
{"x":0.6088,"y":0.7934,"y2":-0.7934},
{"x":0.7071,"y":0.7071,"y2":-0.7071},
{"x":0.7934,"y":0.6088,"y2":-0.6088},
{"x":0.866,"y":0.5,"y2":-0.5},
{"x":0.9239,"y":0.3827,"y2":-0.3827},
{"x":0.9659,"y":0.2588,"y2":-0.2588},
{"x":0.9914,"y":0.1305,"y2":-0.1305},
{"x":0.9979,"y":0.0654,"y2":-0.0654},
{"x":1,"y":0,"y2":0}
],
"bands": [
{"lo":-1.5,"hi":-1.3667,"v":-1.5},
{"lo":-1.3667,"hi":-1.2333,"v":-1.3571},
{"lo":-1.2333,"hi":-1.1,"v":-1.2143},
{"lo":-1.1,"hi":-0.9667,"v":-1.0714},
{"lo":-0.9667,"hi":-0.8333,"v":-0.9286},
{"lo":-0.8333,"hi":-0.7,"v":-0.7857},
{"lo":-0.7,"hi":-0.5667,"v":-0.6429},
{"lo":-0.5667,"hi":-0.4333,"v":-0.5},
{"lo":-0.4333,"hi":-0.3,"v":-0.3571},
{"lo":-0.3,"hi":-0.1667,"v":-0.2143},
{"lo":-0.1667,"hi":-0.0333,"v":-0.0714},
{"lo":-0.0333,"hi":0.1,"v":0.0714},
{"lo":0.1,"hi":0.2333,"v":0.2143},
{"lo":0.2333,"hi":0.3667,"v":0.3571},
{"lo":0.3667,"hi":0.5,"v":0.5}
]
},
"hconcat": [
{
"width": 836,
"height": 721,
"layer": [
{
"data": {"name": "contours"},
"mark": {"type": "line", "strokeWidth": 2, "clip": true, "interpolate": "catmull-rom"},
"encoding": {
"x": {"field": "x", "type": "quantitative", "scale": {"domain": [-3, 3], "nice": false, "zero": false},
"axis": {"values": [-3,-2,-1,0,1,2,3], "labelExpr": "datum.value < 0 ? '-' + (-datum.value) : '' + datum.value", "title": "X", "titleFontSize": 34, "titleFont": "Liberation Sans", "titleFontWeight": "normal", "titleColor": "#000000", "titlePadding": 17, "labelFontSize": 23, "labelFont": "Liberation Sans", "labelColor": "#000000", "labelPadding": 18, "labelFlush": false, "labelOverlap": false, "tickSize": -6, "tickColor": "#555555", "tickWidth": 2, "domainColor": "#555555", "domainWidth": 2, "grid": true, "gridColor": "#e6e6e6", "gridWidth": 1.2}},
"y": {"field": "y", "type": "quantitative", "scale": {"domain": [-3, 3], "nice": false, "zero": false},
"axis": {"values": [-3,-2,-1,0,1,2,3], "labelExpr": "datum.value < 0 ? '-' + (-datum.value) : '' + datum.value", "title": null, "labelFontSize": 23, "labelFont": "Liberation Sans", "labelColor": "#000000", "labelPadding": 16, "labelFlush": false, "labelOverlap": false, "tickSize": -6, "tickColor": "#555555", "tickWidth": 2, "domainColor": "#555555", "domainWidth": 2, "grid": true, "gridColor": "#e6e6e6", "gridWidth": 1.2}},
"detail": {"field": "c", "type": "nominal"},
"order": {"field": "i", "type": "quantitative"},
"color": {"field": "v", "type": "quantitative", "scale": {"scheme": "inferno", "domain": [-1.5, 0.5]}, "legend": null}
}
},
{
"data": {"name": "circle"},
"mark": {"type": "area", "fill": "#d6d6d6", "stroke": "#a9a9a9", "strokeWidth": 2.5, "opacity": 1, "fillOpacity": 1},
"encoding": {
"x": {"field": "x", "type": "quantitative"},
"y": {"field": "y", "type": "quantitative"},
"y2": {"field": "y2"}
}
}
]
},
{
"width": 32,
"height": 721,
"data": {"name": "bands"},
"mark": {"type": "rect"},
"encoding": {
"x": {"datum": 0, "type": "quantitative", "scale": {"domain": [0, 1], "nice": false, "zero": false}, "axis": null},
"x2": {"datum": 1},
"y": {"field": "lo", "type": "quantitative", "scale": {"domain": [-1.5, 0.5], "nice": false, "zero": false},
"axis": {"orient": "right", "values": [-1.25,-1,-0.75,-0.5,-0.25,0,0.25], "title": null, "grid": false, "labelExpr": "datum.value < 0 ? '- ' + format(-datum.value, '.2f') : (datum.value == 0 ? '0' : format(datum.value, '.2f'))", "labelFontSize": 23, "labelFont": "Liberation Sans", "labelColor": "#000000", "labelPadding": 8, "labelFlush": false, "labelOverlap": false, "tickSize": 9, "tickColor": "#333333", "tickWidth": 2, "domainColor": "#333333", "domainWidth": 2}},
"y2": {"field": "hi"},
"color": {"field": "v", "type": "quantitative", "scale": {"scheme": "inferno", "domain": [-1.5, 0.5]}, "legend": null}
}
}
]
}
